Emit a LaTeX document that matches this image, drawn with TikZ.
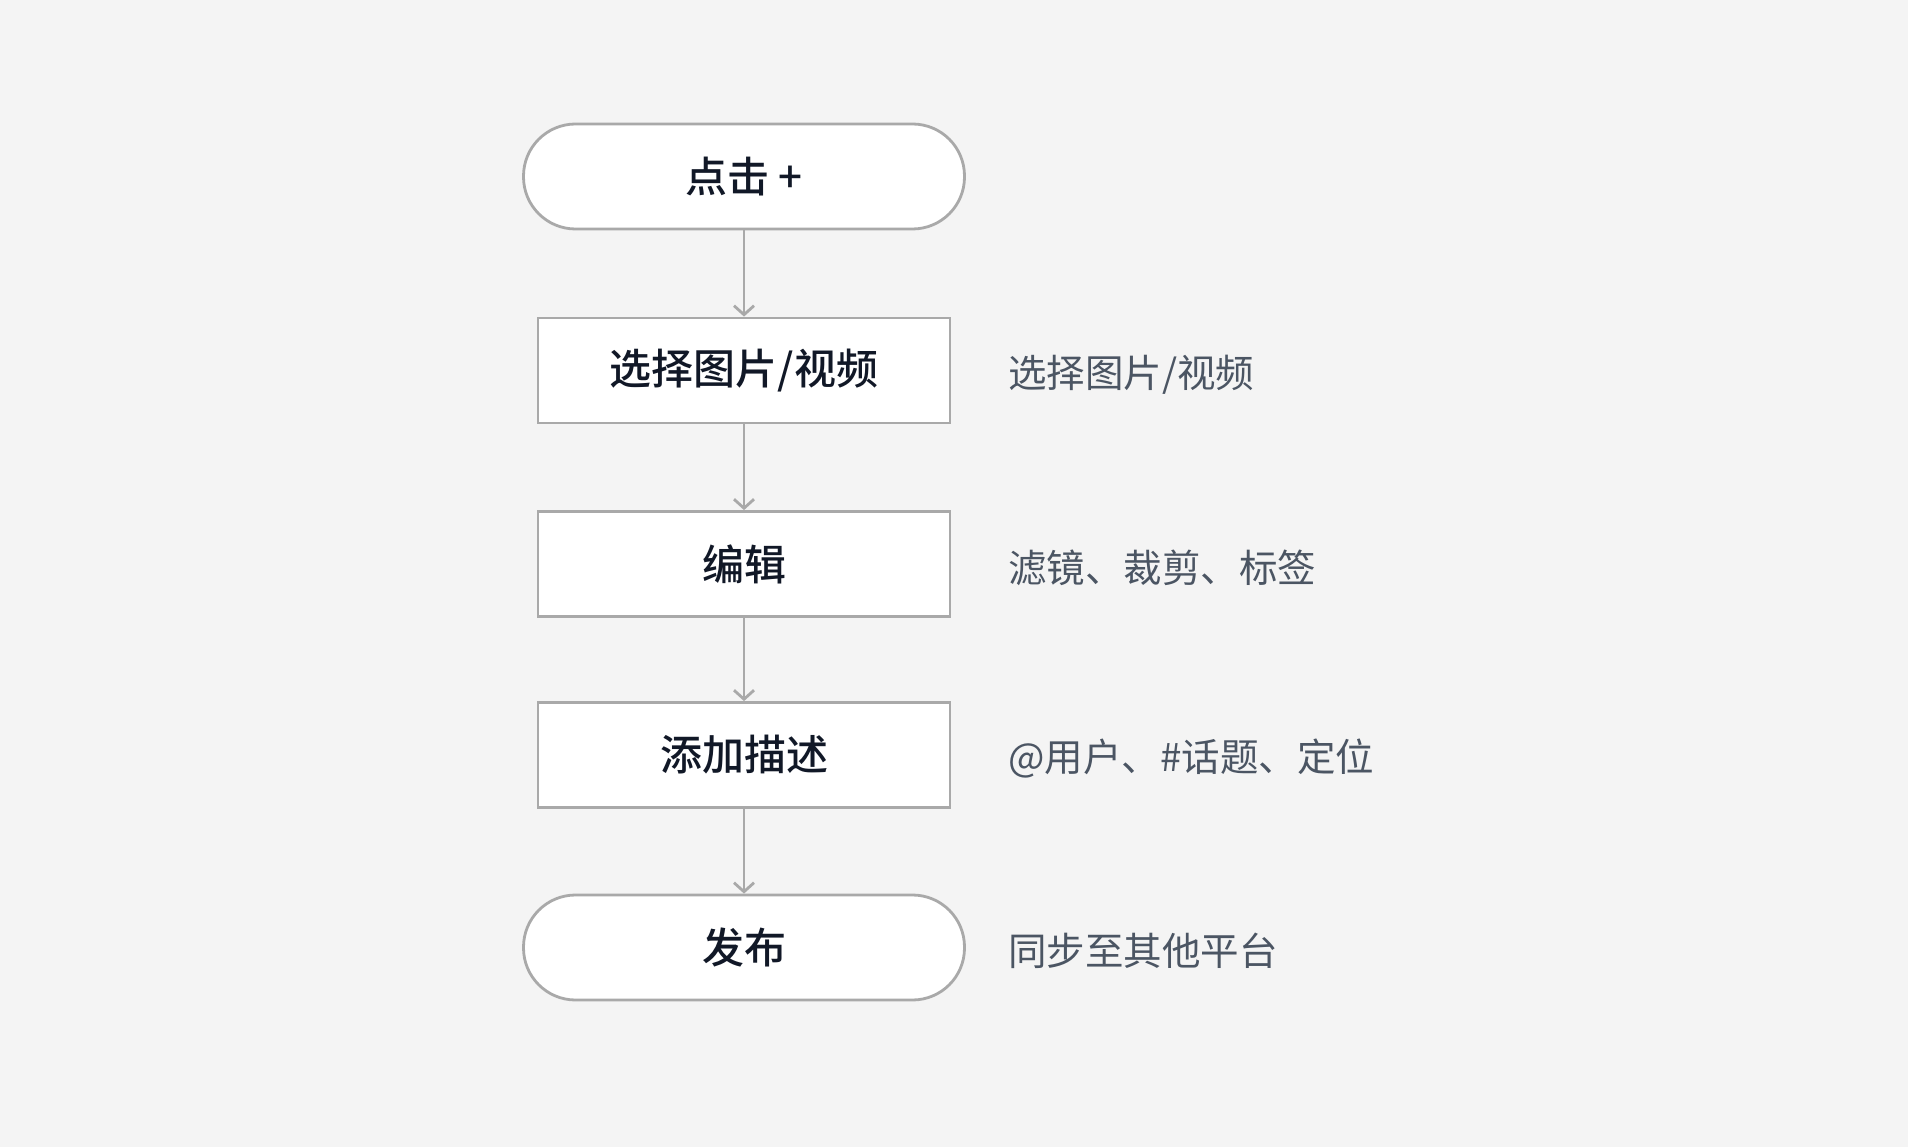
\documentclass[tikz,border=0pt]{standalone}
\usepackage{fontspec}
\usetikzlibrary{arrows.meta,positioning}
\newfontfamily\cjk{Noto Sans CJK SC}
\newfontfamily\cjkmid{Noto Sans CJK SC Medium}
\definecolor{bgcol}{HTML}{F4F4F4}
\definecolor{edgecol}{HTML}{A9A9A9}
\definecolor{inkcol}{HTML}{111827}
\definecolor{notecol}{HTML}{4B5563}
\tikzset{
    stepbox/.style={draw=edgecol, line width=2.8pt, fill=white, inner sep=0pt,
        minimum width=412pt, minimum height=105pt, text=inkcol,
        font=\cjkmid\fontsize{42}{50}\selectfont},
    termbox/.style={stepbox, rounded corners=52pt, minimum width=441pt},
    note/.style={anchor=west, inner sep=0pt, text=notecol,
        font=\cjk\fontsize{38.5}{46}\selectfont},
    flow/.style={draw=edgecol, line width=2.8pt,
        -{Straight Barb[length=9pt,width=20pt,line width=2.8pt]}}
}
\begin{document}
\begin{tikzpicture}[x=1pt, y=-1pt]
    \fill[bgcol] (0,0) rectangle (1908,1147);

    % main flow
    \node[termbox] (tap) at (744,176.5) {点击 +};
    \node[stepbox] (pick) at (744,370.5) {选择图片/视频};
    \node[stepbox] (edit) at (744,564) {编辑};
    \node[stepbox] (desc) at (744,755) {添加描述};
    \node[termbox] (post) at (744,947.5) {发布};

    \foreach \a\b in {tap/pick,pick/edit,edit/desc,desc/post}
    {
        \draw[flow] (\a) -- (\b);
    }

    % side notes
    \node[note] (picknote) at (1008,375) {选择图片/视频};
    \node[note] (editnote) at (1008,568) {滤镜、裁剪、标签};
    \node[note] (descnote) at (1008,759) {@用户、\#话题、定位};
    \node[note] (postnote) at (1008,951) {同步至其他平台};
\end{tikzpicture}
\end{document}
